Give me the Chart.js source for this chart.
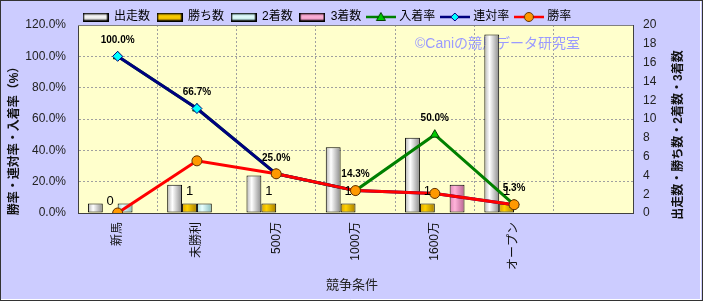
<!DOCTYPE html>
<html>
<head>
<meta charset="utf-8">
<script src="https://cdn.jsdelivr.net/npm/chart.js@4.4.0/dist/chart.umd.min.js"></script>
<style>
html, body { margin: 0; padding: 0; background: #ccccff; }
#wrap { width: 703px; height: 301px; }
</style>
</head>
<body>
<div id="wrap"><canvas id="raceChart" width="703" height="301"></canvas></div>
<script>
// data
const categories = ['新馬', '未勝利', '500万', '1000万', '1600万', 'オープン', ''];
const runs = [1, 3, 4, 7, 8, 19];
const wins = [0, 1, 1, 1, 1, 1];
const seconds = [1, 1, 0, 0, 0, 0];
const thirds = [0, 0, 0, 0, 3, 0];
const placeRate = [100, 66.7, 25, 14.3, 50, 5.3];
const top2Rate = [100, 66.7, 25, 14.3, 12.5, 5.3];
const winRate = [0, 33.3, 25, 14.3, 12.5, 5.3];

const jpFont = '"Liberation Sans", "Noto Sans CJK JP", sans-serif';
Chart.defaults.font.family = jpFont;
Chart.defaults.color = '#222';

// cylinder-ish colours for the bars: left, highlight, right
const barColors = [
    ['#b4b4b4', '#ffffff', '#8a8a8a'],
    ['#d8a200', '#ffd200', '#a87e00'],
    ['#a6d8d8', '#e8ffff', '#86bcbc'],
    ['#e088b6', '#ffb4da', '#b86290']
];

const barFill = function (k) {
    return function (context) {
        const chart = context.chart;
        const xs = chart.scales.x;
        const cols = barColors[k];
        if (!xs || context.dataIndex === undefined) return cols[1];
        const catW = xs.width / categories.length;
        const bw = catW * 0.75 / 4;
        const x0 = xs.getPixelForValue(context.dataIndex) - catW * 0.375 + k * bw;
        if (!isFinite(x0) || !isFinite(bw) || bw <= 0) return cols[1];
        const g = chart.ctx.createLinearGradient(x0, 0, x0 + bw, 0);
        g.addColorStop(0, cols[0]);
        g.addColorStop(0.35, cols[1]);
        g.addColorStop(1, cols[2]);
        return g;
    };
};

// legend icons
const makeBarIcon = function (cols) {
    const cv = document.createElement('canvas');
    cv.width = 26; cv.height = 9;
    const g = cv.getContext('2d');
    const gr = g.createLinearGradient(0, 0, 0, 9);
    gr.addColorStop(0, cols[2]);
    gr.addColorStop(0.45, cols[1]);
    gr.addColorStop(1, cols[0]);
    g.fillStyle = gr;
    g.fillRect(0, 0, 26, 9);
    g.strokeStyle = '#000';
    g.lineWidth = 1.5;
    g.strokeRect(0.75, 0.75, 24.5, 7.5);
    return cv;
};

const makeLineIcon = function (color, shape, fill, stroke) {
    const cv = document.createElement('canvas');
    cv.width = 30; cv.height = 12;
    const g = cv.getContext('2d');
    g.strokeStyle = color;
    g.lineWidth = 2.5;
    g.beginPath(); g.moveTo(0, 6); g.lineTo(30, 6); g.stroke();
    g.fillStyle = fill;
    g.strokeStyle = stroke;
    g.lineWidth = 1;
    g.beginPath();
    if (shape === 'triangle') {
        g.moveTo(15, 1.5); g.lineTo(19.5, 9.5); g.lineTo(10.5, 9.5); g.closePath();
    } else if (shape === 'diamond') {
        g.moveTo(15, 2); g.lineTo(19, 6); g.lineTo(15, 10); g.lineTo(11, 6); g.closePath();
    } else {
        g.arc(15, 6, 4.5, 0, Math.PI * 2);
    }
    g.fill(); g.stroke();
    return cv;
};

const legendIcons = [
    makeBarIcon(barColors[0]), makeBarIcon(barColors[1]),
    makeBarIcon(barColors[2]), makeBarIcon(barColors[3]),
    makeLineIcon('#008000', 'triangle', '#00cc00', '#004000'),
    makeLineIcon('#000080', 'diamond', '#00ffff', '#000080'),
    makeLineIcon('#ff0000', 'circle', '#ff9900', '#603000')
];

// background, watermark, labels, titles, frame
const decoPlugin = {
    id: 'deco',
    afterInit: function (chart) {
        const lg = chart.legend;
        const fit = lg.fit;
        lg.fit = function () { fit.call(this); this.height = 25; };
    },
    afterLayout: function (chart) {
        chart.legend.left = 76;
        chart.legend.top = 4;
    },
    beforeDraw: function (chart) {
        const c = chart.ctx, a = chart.chartArea;
        c.save();
        c.fillStyle = '#ccccff';
        c.fillRect(0, 0, chart.width, chart.height);
        c.fillStyle = '#ffffcc';
        c.fillRect(a.left, a.top, a.right - a.left, a.bottom - a.top);
        c.restore();
    },
    beforeDatasetsDraw: function (chart) {
        const c = chart.ctx, a = chart.chartArea;
        c.save();
        c.strokeStyle = '#808080';
        c.lineWidth = 1;
        c.beginPath(); c.moveTo(a.left, a.top + 0.5); c.lineTo(a.right, a.top + 0.5); c.stroke();
        c.fillStyle = '#9a9aff';
        c.font = '14px ' + jpFont;
        c.textAlign = 'left';
        c.textBaseline = 'middle';
        c.fillText('©Caniの競馬データ研究室', 415, 44);
        c.restore();
    },
    afterDatasetsDraw: function (chart) {
        const c = chart.ctx;
        c.save();
        c.textAlign = 'center';
        c.textBaseline = 'middle';
        c.fillStyle = '#000';
        c.font = '13px ' + jpFont;
        chart.getDatasetMeta(1).data.forEach(function (el, i) {
            c.fillText(String(wins[i]), el.x, el.y - 12);
        });
        c.font = 'bold 10px ' + jpFont;
        chart.getDatasetMeta(4).data.forEach(function (el, i) {
            c.fillText(placeRate[i].toFixed(1) + '%', el.x, el.y - 16);
        });
        c.restore();
    },
    afterDraw: function (chart) {
        const c = chart.ctx;
        c.save();
        c.fillStyle = '#111';
        c.textAlign = 'center';
        c.textBaseline = 'middle';
        c.font = 'bold 12px ' + jpFont;
        c.save(); c.translate(15, 138); c.rotate(-Math.PI / 2);
        c.fillText('勝率・連対率・入着率（%）', 0, 0); c.restore();
        c.save(); c.translate(679, 135); c.rotate(-Math.PI / 2);
        c.fillText('出走数・勝ち数・2着数・3着数', 0, 0); c.restore();
        c.font = '13px ' + jpFont;
        c.fillStyle = '#222';
        c.fillText('競争条件', 352, 285);
        // frame
        c.strokeStyle = '#ffffff';
        c.lineWidth = 1;
        c.beginPath(); c.moveTo(700.5, 1); c.lineTo(700.5, 299.5); c.lineTo(1, 299.5); c.stroke();
        c.strokeStyle = '#333333';
        c.strokeRect(0.5, 0.5, 702, 300);
        c.restore();
    }
};

const barSet = function (label, data, k) {
    return {
        label: label,
        data: data,
        yAxisID: 'y2',
        backgroundColor: barFill(k),
        borderColor: '#000',
        borderWidth: 1,
        borderSkipped: false,
        categoryPercentage: 0.75,
        barPercentage: 1,
        order: 4 + k
    };
};

const lineSet = function (label, data, color, style, fill, stroke, order) {
    return {
        type: 'line',
        label: label,
        data: data,
        yAxisID: 'y',
        borderColor: color,
        borderWidth: 3,
        pointStyle: style,
        pointRadius: 5,
        pointBackgroundColor: fill,
        pointBorderColor: stroke,
        pointBorderWidth: 1,
        tension: 0,
        fill: false,
        order: order
    };
};

new Chart(document.getElementById('raceChart'), {
    type: 'bar',
    data: {
        labels: categories,
        datasets: [
            barSet('出走数', runs, 0),
            barSet('勝ち数', wins, 1),
            barSet('2着数', seconds, 2),
            barSet('3着数', thirds, 3),
            lineSet('入着率', placeRate, '#008000', 'triangle', '#00cc00', '#004000', 3),
            lineSet('連対率', top2Rate, '#000080', 'rectRot', '#00ffff', '#000080', 2),
            lineSet('勝率', winRate, '#ff0000', 'circle', '#ff9900', '#603000', 1)
        ]
    },
    options: {
        responsive: false,
        animation: false,
        layout: { padding: 0 },
        scales: {
            x: {
                afterFit: function (s) { s.height = 88; },
                grid: { color: '#a0a0a0', drawTicks: false },
                border: { color: '#404040', dash: [2, 2] },
                ticks: { minRotation: 90, maxRotation: 90, autoSkip: false, padding: 9, color: '#111', font: { size: 12 } }
            },
            y: {
                position: 'left',
                min: 0,
                max: 120,
                afterFit: function (s) { s.width = 78; },
                grid: { color: '#a0a0a0', drawTicks: false },
                border: { color: '#404040', dash: [2, 2] },
                ticks: {
                    stepSize: 20,
                    padding: 12,
                    font: { size: 12 },
                    callback: function (v) { return v.toFixed(1) + '%'; }
                }
            },
            y2: {
                position: 'right',
                min: 0,
                max: 20,
                afterFit: function (s) { s.width = 70; },
                grid: { drawOnChartArea: false, drawTicks: false },
                border: { color: '#404040' },
                ticks: { stepSize: 2, padding: 10, font: { size: 12 } }
            }
        },
        plugins: {
            legend: {
                position: 'top',
                align: 'start',
                labels: {
                    usePointStyle: true,
                    pointStyleWidth: 25,
                    padding: 7,
                    color: '#000',
                    font: { size: 12 },
                    sort: function (a, b) { return a.datasetIndex - b.datasetIndex; },
                    generateLabels: function (chart) {
                        const items = Chart.defaults.plugins.legend.labels.generateLabels(chart);
                        items.forEach(function (it) { it.pointStyle = legendIcons[it.datasetIndex]; });
                        return items;
                    }
                }
            },
            tooltip: { enabled: false }
        }
    },
    plugins: [decoPlugin]
});
</script>
</body>
</html>
